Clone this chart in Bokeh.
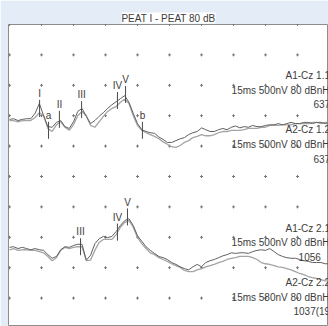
import numpy as np
from bokeh.plotting import figure
from bokeh.models import Range1d
from bokeh.core.properties import value
from bokeh.embed import file_html
from bokeh.resources import INLINE

# ---- data ----
title = "PEAT I - PEAT 80 dB"
ms_per_div = 1.5
uv_per_div = 0.5
t_ms = np.round(np.arange(76) * 0.2, 1)

up_a1 = [-0.01, 0.00, -0.03, -0.01, 0.00, 0.00, 0.09, 0.25, 0.05, -0.13,
         -0.14, -0.06, -0.03, -0.13, -0.16, -0.05, 0.12, 0.17, 0.04, -0.08,
         -0.03, 0.04, 0.10, 0.17, 0.23, 0.28, 0.33, 0.38, 0.27, 0.09,
         -0.08, -0.18, -0.21, -0.23, -0.24, -0.30, -0.34, -0.39, -0.39, -0.36,
         -0.33, -0.31, -0.26, -0.23, -0.21, -0.15, -0.18, -0.21, -0.21, -0.18,
         -0.16, -0.18, -0.14, -0.12, -0.15, -0.13, -0.14, -0.11, -0.13, -0.13,
         -0.11, -0.10, -0.10, -0.08, -0.10, -0.08, -0.06, -0.08, -0.08, -0.06,
         -0.06, -0.08, -0.06, -0.06, -0.08, -0.06]
up_a2 = [-0.03, -0.03, -0.05, -0.03, -0.03, -0.03, 0.02, 0.10, 0.05, -0.16,
         -0.21, -0.10, -0.05, -0.14, -0.19, -0.10, 0.05, 0.12, 0.05, -0.11,
         -0.14, -0.05, 0.04, 0.12, 0.17, 0.20, 0.27, 0.32, 0.25, 0.05,
         -0.11, -0.19, -0.23, -0.26, -0.29, -0.33, -0.38, -0.42, -0.46, -0.47,
         -0.44, -0.39, -0.36, -0.31, -0.29, -0.26, -0.28, -0.28, -0.26, -0.23,
         -0.21, -0.21, -0.19, -0.19, -0.19, -0.18, -0.16, -0.16, -0.16, -0.14,
         -0.14, -0.11, -0.11, -0.11, -0.10, -0.10, -0.10, -0.08, -0.08, -0.08,
         -0.08, -0.06, -0.06, -0.08, -0.06, -0.06]
lo_a1 = [0.01, 0.02, -0.01, 0.01, -0.01, -0.03, -0.01, -0.03, -0.04, -0.11,
         -0.17, -0.14, -0.03, 0.02, 0.01, 0.04, 0.06, 0.06, -0.20, -0.12,
         0.07, 0.15, 0.19, 0.17, 0.19, 0.27, 0.37, 0.45, 0.48, 0.37,
         0.20, 0.11, 0.02, -0.04, -0.09, -0.14, -0.16, -0.19, -0.24, -0.27,
         -0.31, -0.34, -0.36, -0.31, -0.27, -0.31, -0.24, -0.21, -0.19, -0.16,
         -0.13, -0.11, -0.08, -0.09, -0.08, -0.08, -0.09, -0.06, -0.04, -0.03,
         -0.04, -0.01, -0.06, -0.11, -0.14, -0.16, -0.17, -0.17, -0.19, -0.21,
         -0.22, -0.24, -0.24, -0.24, -0.26, -0.26]
lo_a2 = [-0.03, -0.01, -0.04, -0.03, -0.03, -0.04, -0.04, -0.06, -0.08, -0.14,
         -0.21, -0.16, -0.04, 0.01, -0.01, 0.01, 0.02, 0.02, -0.21, -0.20,
         -0.04, 0.09, 0.14, 0.14, 0.14, 0.22, 0.34, 0.42, 0.45, 0.34,
         0.17, 0.07, -0.01, -0.08, -0.11, -0.16, -0.19, -0.22, -0.26, -0.29,
         -0.32, -0.37, -0.39, -0.39, -0.36, -0.34, -0.31, -0.29, -0.27, -0.24,
         -0.22, -0.19, -0.17, -0.16, -0.14, -0.14, -0.14, -0.16, -0.19, -0.24,
         -0.26, -0.27, -0.29, -0.31, -0.32, -0.34, -0.36, -0.39, -0.42, -0.44,
         -0.47, -0.49, -0.50, -0.52, -0.54, -0.55]

up_peaks = ["I", "a", "II", "III", "IV", "V", "b"]
up_lat = [1.41, 1.83, 2.34, 3.38, 5.06, 5.44, 6.23]
up_amp = [0.17, -0.19, -0.01, 0.15, 0.30, 0.40, -0.19]
lo_peaks = ["III", "IV", "V"]
lo_lat = [3.33, 5.06, 5.53]
lo_amp = [0.02, 0.26, 0.51]

up_info = [["A1-Cz 1.1", "15ms 500nV 80 dBnHL", "637"],
           ["A2-Cz 1.2", "15ms 500nV 80 dBnHL", "637"]]
lo_info = [["A1-Cz 2.1", "15ms 500nV 80 dBnHL", "1056"],
           ["A2-Cz 2.2", "15ms 580nV 80 dBnHL", "1037(19)"]]

# ---- layout / style ----
up_base, lo_base = 6.9, 2.65          # trace baselines (divisions)
tick_half = 0.14                      # peak marker half length (uV)
info_x = [12.94, 10.41]               # left x of the info lines (ms)
info_num_x = {"637": 14.25, "1056": 13.55, "1037(19)": 13.31}
info_y = {"up": [[8.32, 7.83, 7.37], [6.55, 6.05, 5.59]],
          "lo": [[3.29, 2.83, 2.34], [1.51, 1.02, 0.56]]}
FONT = "Liberation Sans"
TXT = "#3c3c3c"
PAGE_BG = "#e4edf7"

p = figure(width=328, height=326,
           x_range=Range1d(-0.046875, 14.953125), y_range=Range1d(0.066, 10),
           output_backend="svg", toolbar_location=None,
           x_axis_location=None, y_axis_location=None,
           min_border_left=8, min_border_right=0, min_border_bottom=0,
           min_border_top=24,
           outline_line_color="#8c8c8c", outline_line_width=1,
           background_fill_color="white", border_fill_color=PAGE_BG)
p.grid.grid_line_color = None
p.title.text = title
p.title.align = "center"
p.title.text_font = FONT
p.title.text_font_size = "10px"
p.title.text_font_style = "normal"
p.title.text_color = TXT
p.title.standoff = 2
p.title.background_fill_color = "white"

# grid dots
gx, gy = np.meshgrid(np.arange(0, 11) * ms_per_div, np.arange(1, 11))
p.scatter(gx.ravel(), gy.ravel(), marker="cross", size=3, line_width=1,
          color="#7a7a7a")

# traces
def yv(base, amp):
    return base + np.asarray(amp) / uv_per_div

p.line(t_ms, yv(up_base, up_a2), line_color="#a4a4a4", line_width=1.3)
p.line(t_ms, yv(up_base, up_a1), line_color="#606060", line_width=1.0)
p.line(t_ms, yv(lo_base, lo_a2), line_color="#a4a4a4", line_width=1.3)
p.line(t_ms, yv(lo_base, lo_a1), line_color="#606060", line_width=1.0)

# peak markers
def markers(base, lat, amp, names):
    amp = np.asarray(amp)
    top = yv(base, amp + tick_half)
    bot = yv(base, amp - tick_half)
    p.segment(x0=lat, y0=bot, x1=lat, y1=top, line_color="#4a4a4a", line_width=1)
    p.text(x=lat, y=top + 0.03, text=names, text_align="center",
           text_baseline="bottom", text_font=value(FONT),
           text_font_size="10px", text_color=TXT)

markers(up_base, up_lat, up_amp, up_peaks)
markers(lo_base, lo_lat, lo_amp, lo_peaks)

# info texts
for key, info in (("up", up_info), ("lo", lo_info)):
    for j, lines in enumerate(info):
        xs = [info_x[0], info_x[1], info_num_x[lines[2]]]
        p.text(x=xs, y=info_y[key][j], text=lines, text_align="left",
               text_baseline="middle", text_font=value(FONT),
               text_font_size="10px", text_color=TXT)

open("out.html", "w").write(file_html(p, INLINE))
